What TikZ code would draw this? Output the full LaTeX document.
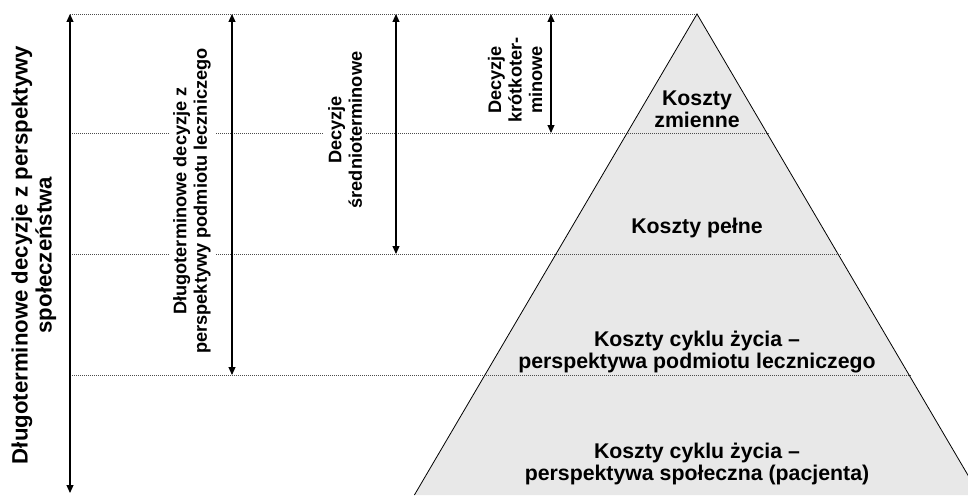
\documentclass[tikz,border=0pt]{standalone}
\usepackage{fontspec}
\setmainfont{Liberation Sans}
\usetikzlibrary{arrows.meta}
\begin{document}
\begin{tikzpicture}[x=1pt,y=-1pt,
  guide/.style={draw=black!70, line width=0.7pt, dash pattern=on 1pt off 1pt},
  span/.style={line width=1.1pt, {Triangle[length=8pt,width=7pt]}-{Triangle[length=8pt,width=7pt]}},
  vlabel/.style={rotate=90, fill=white, align=center, inner sep=4pt,
    font=\bfseries\fontsize{18.2}{20.5}\selectfont},
  biglabel/.style={rotate=90, align=center, inner sep=2pt,
    font=\bfseries\fontsize{22.2}{24}\selectfont},
  level/.style={align=center, inner sep=1pt,
    font=\bfseries\fontsize{21.3}{22}\selectfont}
]
\useasboundingbox (0,0) rectangle (968,495);
% pyramid
\coordinate (apex) at (697,14);
\coordinate (bl) at (414.4,495);
\coordinate (br) at (979.6,495);
\begin{scope}
  \clip (0,0) rectangle (968,495);
  \fill[black!9] (apex) -- (bl) -- (br) -- cycle;
\end{scope}
% guide lines
\coordinate (L0) at (70,14);
\coordinate (L1) at (70,133);  \coordinate (R1) at (769,133);
\coordinate (L2) at (70,254);  \coordinate (R2) at (842,254);
\coordinate (L3) at (70,375);  \coordinate (R3) at (911,375);
\draw[guide] (L0) -- (apex);
\draw[guide] (L1) -- (R1);
\draw[guide] (L2) -- (R2);
\draw[guide] (L3) -- (R3);
\begin{scope}
  \clip (0,0) rectangle (968,495);
  \draw[line width=0.8pt] (bl) -- (apex) -- (br);
\end{scope}
% arrows
\coordinate (a1t) at (70,14);   \coordinate (a1b) at (70,493);
\coordinate (a2t) at (232,14);  \coordinate (a2b) at (232,375);
\coordinate (a3t) at (396,14);  \coordinate (a3b) at (396,254);
\coordinate (a4t) at (551,14);  \coordinate (a4b) at (551,133);
\draw[span] (a1t) -- (a1b);
\draw[span] (a2t) -- (a2b);
\draw[span] (a3t) -- (a3b);
\draw[span] (a4t) -- (a4b);
% side labels
\node[biglabel] (lsoc) at (34,255) {Długoterminowe decyzje z perspektywy\\społeczeństwa};
\node[vlabel] (lpod) at (192,201) {Długoterminowe decyzje z\\perspektywy podmiotu leczniczego};
\node[vlabel] (lsre) at (345,130) {Decyzje\\średnioterminowe};
\node[vlabel, fill=none] (lkro) at (515,80) {Decyzje\\krótkoter-\\minowe};
% pyramid labels
\node[level] (kzm) at (697,109) {Koszty\\zmienne};
\node[level] (kpe) at (697,228) {Koszty pełne};
\node[level] (kcp) at (697,352) {Koszty cyklu życia –\\perspektywa podmiotu leczniczego};
\node[level] (kcs) at (697,464) {Koszty cyklu życia –\\perspektywa społeczna (pacjenta)};
\end{tikzpicture}
\end{document}
